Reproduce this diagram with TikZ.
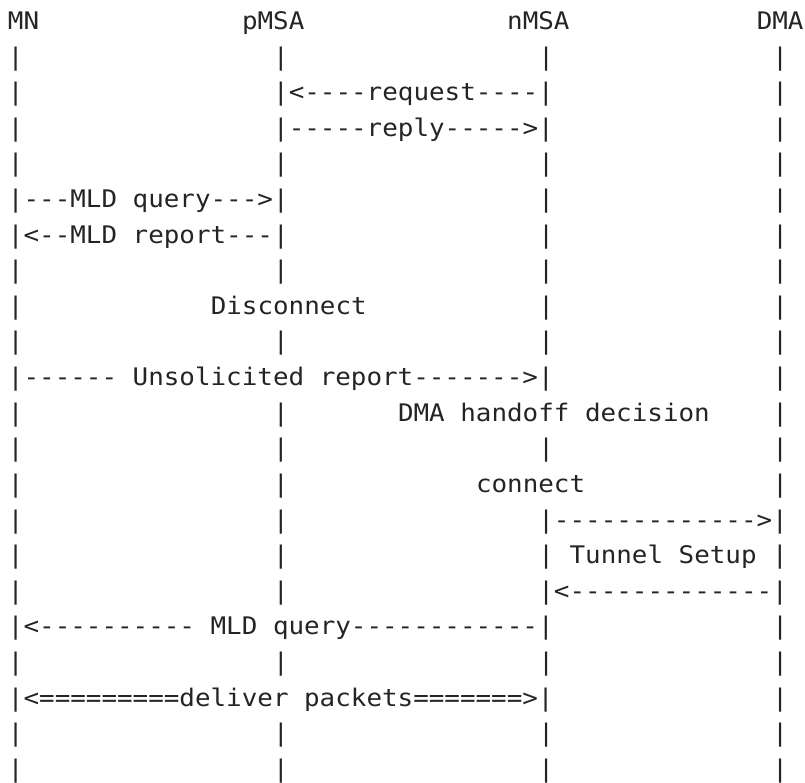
\documentclass[tikz,border=0pt]{standalone}
\usepackage{fontspec}
\setmonofont{DejaVu Sans Mono}[FakeStretch=1.07]
\definecolor{ink}{HTML}{242424}
\tikzset{
  txt/.style={anchor=base west, inner sep=0pt, outer sep=0pt,
    font=\ttfamily\fontsize{24.2pt}{24.2pt}\selectfont, text=ink,
    xshift=8pt, yshift=-29.4pt}
}
\begin{document}
\begin{tikzpicture}[x=15.6pt, y=-35.62pt]
\useasboundingbox (0pt,0pt) rectangle (805pt,-782pt);
% header
\node[txt] (mn)   at (0,0)  {MN};
\node[txt] (pmsa) at (15,0) {pMSA};
\node[txt] (nmsa) at (32,0) {nMSA};
\node[txt] (dma)  at (48,0) {DMA};
% rows with only lifelines
\foreach \r in {1,4,7,9,12,18,20,21}
  \foreach \c in {0,17,34,49}
    \node[txt] (p\r-\c) at (\c,\r) {|};
% row 2
\node[txt] (l2a) at (0,2)  {|};
\node[txt] (req) at (17,2) {|<----request----|};
\node[txt] (l2d) at (49,2) {|};
% row 3
\node[txt] (l3a) at (0,3)  {|};
\node[txt] (rep) at (17,3) {|-----reply----->|};
\node[txt] (l3d) at (49,3) {|};
% row 5
\node[txt] (mq)  at (0,5)  {|---MLD query--->|};
\node[txt] (l5c) at (34,5) {|};
\node[txt] (l5d) at (49,5) {|};
% row 6
\node[txt] (mr)  at (0,6)  {|<--MLD report---|};
\node[txt] (l6c) at (34,6) {|};
\node[txt] (l6d) at (49,6) {|};
% row 8
\node[txt] (l8a) at (0,8)  {|};
\node[txt] (disc) at (13,8) {Disconnect};
\node[txt] (l8c) at (34,8) {|};
\node[txt] (l8d) at (49,8) {|};
% row 10
\node[txt] (unsol) at (0,10) {|------ Unsolicited report------->|};
\node[txt] (l10d) at (49,10) {|};
% row 11
\node[txt] (l11a) at (0,11)  {|};
\node[txt] (l11b) at (17,11) {|};
\node[txt] (hod)  at (25,11) {DMA handoff decision};
\node[txt] (l11d) at (49,11) {|};
% row 13
\node[txt] (l13a) at (0,13)  {|};
\node[txt] (l13b) at (17,13) {|};
\node[txt] (conn) at (30,13) {connect};
\node[txt] (l13d) at (49,13) {|};
% row 14
\node[txt] (l14a) at (0,14)  {|};
\node[txt] (l14b) at (17,14) {|};
\node[txt] (tun1) at (34,14) {|------------->|};
% row 15
\node[txt] (l15a) at (0,15)  {|};
\node[txt] (l15b) at (17,15) {|};
\node[txt] (tun)  at (34,15) {| Tunnel Setup |};
% row 16
\node[txt] (l16a) at (0,16)  {|};
\node[txt] (l16b) at (17,16) {|};
\node[txt] (tun2) at (34,16) {|<-------------|};
% row 17
\node[txt] (mq2)  at (0,17)  {|<---------- MLD query------------|};
\node[txt] (l17d) at (49,17) {|};
% row 19
\node[txt] (dlv)  at (0,19)  {|<=========deliver packets=======>|};
\node[txt] (l19d) at (49,19) {|};
\end{tikzpicture}
\end{document}
